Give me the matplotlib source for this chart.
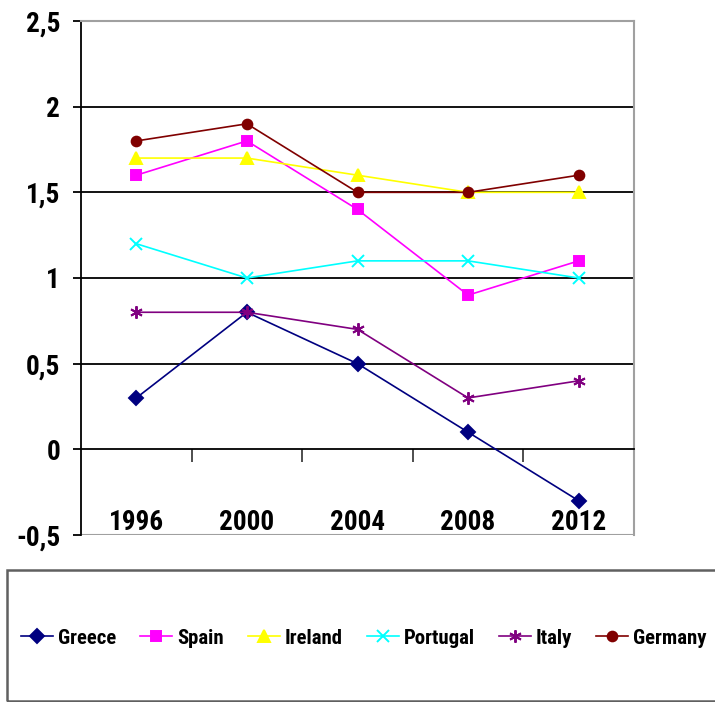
import matplotlib
matplotlib.use("Agg")
import matplotlib.pyplot as plt
from matplotlib.patches import Rectangle
from matplotlib import font_manager
from matplotlib.textpath import TextPath
from matplotlib.font_manager import FontProperties

available = {f.name for f in font_manager.fontManager.ttflist}
candidates = ["Liberation Sans Narrow", "Roboto Condensed", "Open Sans Condensed",
              "Noto Sans Condensed", "Roboto", "Liberation Sans", "DejaVu Sans"]
main_font = next((c for c in candidates if c in available), "DejaVu Sans")
plt.rcParams['font.family'] = [main_font, 'DejaVu Sans']


def fit_size(s, target_px):
    fp = FontProperties(family=main_font, weight="bold")
    w = TextPath((0, 0), s, size=1, prop=fp).get_extents().width
    return target_px / (w * 100 / 72)


years = ["1996", "2000", "2004", "2008", "2012"]
greece = [0.3, 0.8, 0.5, 0.1, -0.3]
spain = [1.6, 1.8, 1.4, 0.9, 1.1]
ireland = [1.7, 1.7, 1.6, 1.5, 1.5]
portugal = [1.2, 1.0, 1.1, 1.1, 1.0]
italy = [0.8, 0.8, 0.7, 0.3, 0.4]
germany = [1.8, 1.9, 1.5, 1.5, 1.6]
y_ticks = [-0.5, 0, 0.5, 1, 1.5, 2, 2.5]
y_labels = ["-0,5", "0", "0,5", "1", "1,5", "2", "2,5"]

series = [
    ("Greece", greece, "#000080", "D", 7),
    ("Spain", spain, "#FF00FF", "s", 7),
    ("Ireland", ireland, "#FFFF00", "^", 8),
    ("Portugal", portugal, "#00FFFF", "x", 8),
    ("Italy", italy, "#800080", (6, 2, 0), 9),
    ("Germany", germany, "#800000", "o", 7),
]

tick_fs = min(fit_size("1996", 52), 22)
leg_fs = min(fit_size("Greece", 57), 17)
em_px = leg_fs * 100 / 72

fig = plt.figure(figsize=(7.15, 7.02), dpi=100)
ax = fig.add_axes([81 / 715, 1 - 535 / 702, 553 / 715, 514 / 702])

x = list(range(len(years)))
handles = []
for name, vals, col, mk, ms in series:
    h, = ax.plot(x, vals, color=col, lw=1.2, marker=mk, markersize=ms,
                 markerfacecolor=col, markeredgecolor=col, markeredgewidth=1.4,
                 label=name, zorder=3)
    handles.append(h)

ax.set_xlim(-0.5, len(years) - 0.5)
ax.set_ylim(-0.5, 2.5)

for yv in [0.5, 1, 1.5, 2]:
    ax.axhline(yv, color="black", lw=1.3, zorder=1)
ax.axhline(-0.5, color="#a0a0a0", lw=1.5, zorder=1)

for s in ["top", "right"]:
    ax.spines[s].set_color("#a0a0a0")
    ax.spines[s].set_linewidth(1.5)
ax.spines["left"].set_color("black")
ax.spines["left"].set_linewidth(1.3)
ax.spines["bottom"].set_position(("data", 0))
ax.spines["bottom"].set_color("black")
ax.spines["bottom"].set_linewidth(1.3)

ax.set_yticks(y_ticks)
ax.set_yticklabels(y_labels, fontsize=tick_fs, fontweight="bold")
ax.tick_params(axis="y", direction="out", length=6, width=1.3, pad=9)

ax.set_xticks(x)
ax.set_xticklabels(years, fontsize=tick_fs, fontweight="bold")
ax.tick_params(axis="x", which="major", length=0, pad=43)
ax.set_xticks([i + 0.5 for i in range(len(years))], minor=True)
ax.tick_params(axis="x", which="minor", direction="out", length=9, width=1.3,
               color="#404040")

fig.patches.append(Rectangle((7 / 715, 1 - 701 / 702), 720 / 715, 131 / 702,
                             transform=fig.transFigure, fill=False,
                             edgecolor="#606060", lw=1.8))
fig.legend(handles=handles, loc="center", bbox_to_anchor=(364 / 715, 1 - 638 / 702),
           ncol=6, frameon=False, prop={"weight": "bold", "size": leg_fs},
           handlelength=32 / em_px, handletextpad=5 / em_px,
           columnspacing=24 / em_px, borderpad=0.2)

fig.savefig("out.png", dpi=100)
